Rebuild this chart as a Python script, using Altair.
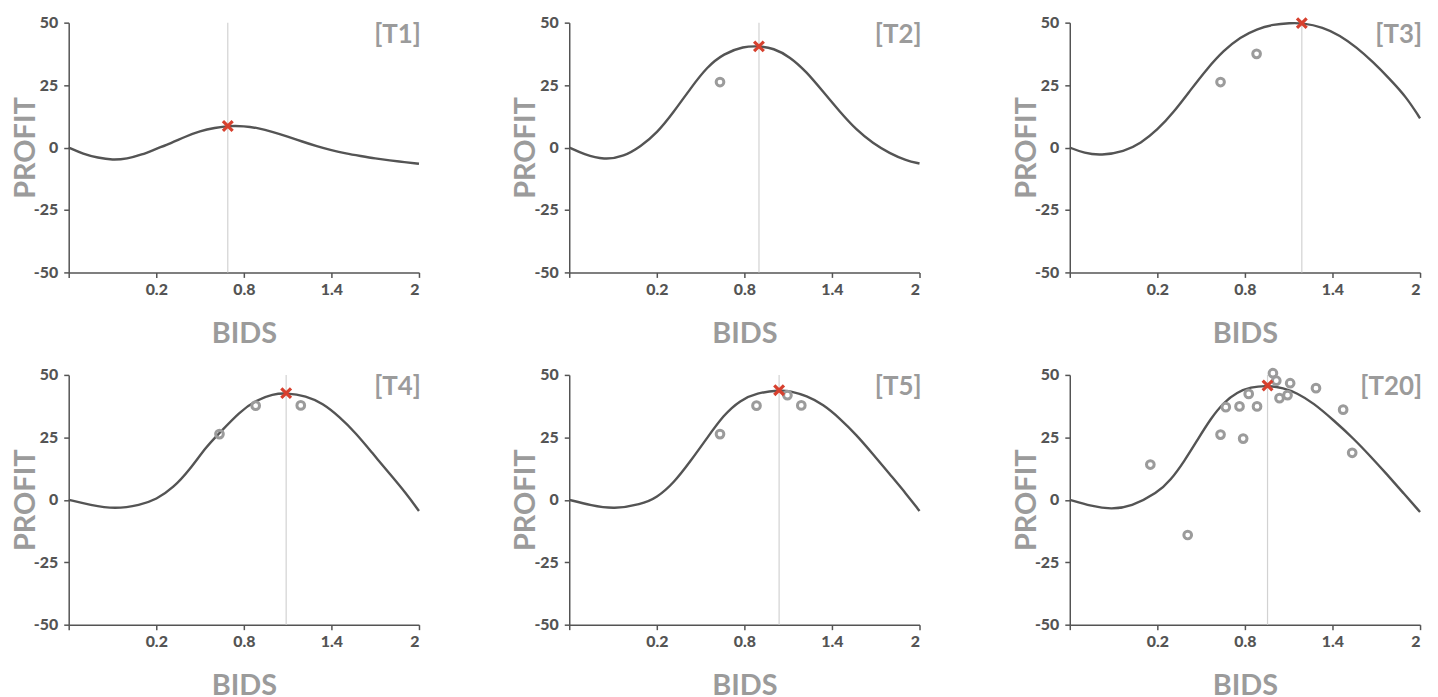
import altair as alt
import pandas as pd

panel_labels = ["[T1]", "[T2]", "[T3]", "[T4]", "[T5]", "[T20]"]

x_ticks = [-0.4, 0.2, 0.8, 1.4, 2.0]
y_ticks = [-50, -25, 0, 25, 50]

# expected profit curves
t1_bid = [-0.4, -0.3, -0.2, -0.1, 0.0, 0.1, 0.2, 0.3, 0.4, 0.5, 0.6, 0.7, 0.8, 0.9,
          1.0, 1.1, 1.2, 1.3, 1.4, 1.5, 1.6, 1.7, 1.8, 1.9, 2.0]
t1_profit = [0.0, -2.6, -4.1, -5.0, -4.5, -2.9, -0.5, 1.7, 4.4, 6.6, 7.9, 8.7, 8.6, 7.8,
             6.2, 4.4, 2.4, 0.5, -1.1, -2.4, -3.4, -4.4, -5.2, -5.8, -6.5]

t2_bid = [-0.4, -0.3, -0.161, -0.025, 0.089, 0.2, 0.317, 0.43, 0.544, 0.658, 0.794, 0.9,
          0.999, 1.113, 1.226, 1.34, 1.454, 1.568, 1.681, 1.795, 1.909, 2.0]
t2_profit = [0.0, -2.7, -5.0, -3.6, 0.4, 5.7, 14.3, 23.6, 32.3, 37.6, 40.5, 40.6,
             39.8, 36.3, 30.3, 22.3, 14.3, 7.0, 1.7, -2.3, -5.2, -6.4]

t3_bid = [-0.4, -0.3, -0.186, -0.027, 0.086, 0.2, 0.314, 0.427, 0.541, 0.655, 0.768, 0.882,
          0.995, 1.109, 1.19, 1.336, 1.45, 1.564, 1.677, 1.79, 1.905, 2.0]
t3_profit = [0.0, -2.3, -3.2, -1.6, 1.7, 7.0, 14.3, 23.0, 31.6, 38.9, 44.2, 47.5,
             49.3, 49.8, 49.9, 48.2, 44.9, 40.2, 34.3, 27.6, 20.3, 11.7]

t4_bid = [-0.4, -0.252, -0.082, 0.089, 0.2, 0.317, 0.43, 0.544, 0.633, 0.772, 0.885, 0.999,
          1.09, 1.227, 1.34, 1.454, 1.568, 1.681, 1.795, 1.909, 2.0]
t4_profit = [0.0, -2.1, -3.7, -2.1, 0.1, 4.8, 12.1, 21.4, 26.7, 35.3, 39.9, 42.3,
             42.8, 41.6, 38.6, 33.3, 26.7, 18.7, 10.7, 2.8, -4.5]

t5_bid = [-0.4, -0.25, -0.093, 0.089, 0.2, 0.317, 0.43, 0.544, 0.658, 0.772, 0.885, 1.038,
          1.113, 1.227, 1.34, 1.454, 1.568, 1.681, 1.795, 1.909, 2.0]
t5_profit = [0.0, -2.3, -3.7, -1.9, 0.8, 6.8, 15.4, 24.7, 34.0, 39.9, 42.8, 43.9,
             43.6, 41.6, 38.2, 32.6, 26.0, 18.3, 10.3, 2.4, -4.5]

t20_bid = [-0.4, -0.25, -0.116, 0.02, 0.2, 0.293, 0.383, 0.474, 0.565, 0.656, 0.747, 0.838,
           0.951, 1.065, 1.155, 1.269, 1.409, 1.545, 1.659, 1.773, 1.886, 2.0]
t20_profit = [0.0, -2.6, -3.8, -2.7, 2.7, 8.0, 15.3, 23.9, 32.5, 39.1, 43.1, 45.1,
              45.8, 44.8, 42.8, 38.8, 31.8, 24.5, 17.5, 10.2, 2.7, -4.9]

# best bid so far (red cross + vertical rule)
opt_bid = [0.69, 0.90, 1.19, 1.09, 1.038, 0.955]
opt_profit = [8.6, 40.5, 49.8, 42.7, 43.9, 45.8]

# observed trials (grey rings)
t1_obs_bid, t1_obs_profit = [], []
t2_obs_bid, t2_obs_profit = [0.633], [26.2]
t3_obs_bid, t3_obs_profit = [0.633, 0.88], [26.2, 37.5]
t4_obs_bid, t4_obs_profit = [0.633, 0.881, 1.19], [26.3, 37.7, 37.8]
t5_obs_bid, t5_obs_profit = [0.633, 0.883, 1.095, 1.19], [26.3, 37.7, 41.9, 37.8]
t20_obs_bid = [0.152, 0.408, 0.633, 0.669, 0.763, 0.788, 0.826, 0.883, 0.992, 1.015,
               1.037, 1.092, 1.11, 1.287, 1.473, 1.535]
t20_obs_profit = [14.1, -14.1, 26.1, 37.1, 37.4, 24.5, 42.4, 37.4, 50.7, 47.7,
                  40.7, 41.9, 46.7, 44.7, 36.1, 18.8]

curves = [(t1_bid, t1_profit), (t2_bid, t2_profit), (t3_bid, t3_profit),
          (t4_bid, t4_profit), (t5_bid, t5_profit), (t20_bid, t20_profit)]
observed = [(t1_obs_bid, t1_obs_profit), (t2_obs_bid, t2_obs_profit),
            (t3_obs_bid, t3_obs_profit), (t4_obs_bid, t4_obs_profit),
            (t5_obs_bid, t5_obs_profit), (t20_obs_bid, t20_obs_profit)]

FONT = "Lato"
DARK = "#545454"
GREY = "#9b9b9b"
RED = "#d7402e"
W, H = 352, 251

x_label_expr = "datum.value < 0 ? '' : (datum.value == 2 ? '2' : format(datum.value, '.1f'))"
y_label_expr = "'' + datum.value"


def make_panel(i):
    x_enc = alt.X(
        "bid:Q",
        scale=alt.Scale(domain=[-0.4, 2.0], nice=False, zero=False),
        axis=alt.Axis(values=x_ticks, labelExpr=x_label_expr, title="BIDS",
                      grid=False, titlePadding=22),
    )
    y_enc = alt.Y(
        "profit:Q",
        scale=alt.Scale(domain=[-50, 50], nice=False, zero=False),
        axis=alt.Axis(values=y_ticks, labelExpr=y_label_expr, title="PROFIT",
                      grid=False, titlePadding=-7),
    )
    cb, cp = curves[i]
    curve_df = pd.DataFrame({"bid": cb, "profit": cp})
    opt_df = pd.DataFrame({"bid": [opt_bid[i]], "profit": [opt_profit[i]]})
    label_df = pd.DataFrame({"label": [panel_labels[i]]})

    rule = alt.Chart(opt_df).mark_rule(color="#d2d2d2", strokeWidth=1.2).encode(x=x_enc)
    line = alt.Chart(curve_df).mark_line(
        color=DARK, strokeWidth=2.4, interpolate="basis"
    ).encode(x=x_enc, y=y_enc)
    layers = [rule, line]
    ob, op = observed[i]
    if ob:
        obs_df = pd.DataFrame({"bid": ob, "profit": op})
        rings = alt.Chart(obs_df).mark_point(
            shape="circle", filled=False, color=GREY, strokeWidth=3, size=60, opacity=1
        ).encode(x=x_enc, y=y_enc)
        layers.append(rings)
    cross = alt.Chart(opt_df).mark_point(
        shape="M-1,-1L1,1M-1,1L1,-1", filled=False, color=RED, strokeWidth=3.2,
        size=95, opacity=1
    ).encode(x=x_enc, y=y_enc)
    layers.append(cross)
    tag = alt.Chart(label_df).mark_text(
        align="right", baseline="top", font=FONT, fontSize=26, fontWeight="bold",
        color=GREY, dy=-1
    ).encode(x=alt.value(W + 2), y=alt.value(0), text="label:N")
    layers.append(tag)

    return alt.layer(*layers).properties(width=W, height=H)


chart = alt.concat(
    *[make_panel(i) for i in range(6)],
    columns=3,
    spacing=alt.RowColnumber(column=151, row=103),
    bounds="flush",
).configure_view(stroke=None).configure_axis(
    domainColor=DARK, domainWidth=1.5, tickColor=DARK, tickWidth=1.5, tickSize=5,
    labelFont=FONT, labelFontWeight=900, labelFontSize=16, labelColor=DARK,
    labelPadding=4, titleFont=FONT, titleFontWeight="bold", titleFontSize=29,
    titleColor=GREY,
).configure_axisY(labelPadding=6).properties(
    padding={"left": 3, "top": 2, "right": 5, "bottom": 5},
    background="white",
)

chart.save("out.html", embed_options={"renderer": "svg", "actions": False})
